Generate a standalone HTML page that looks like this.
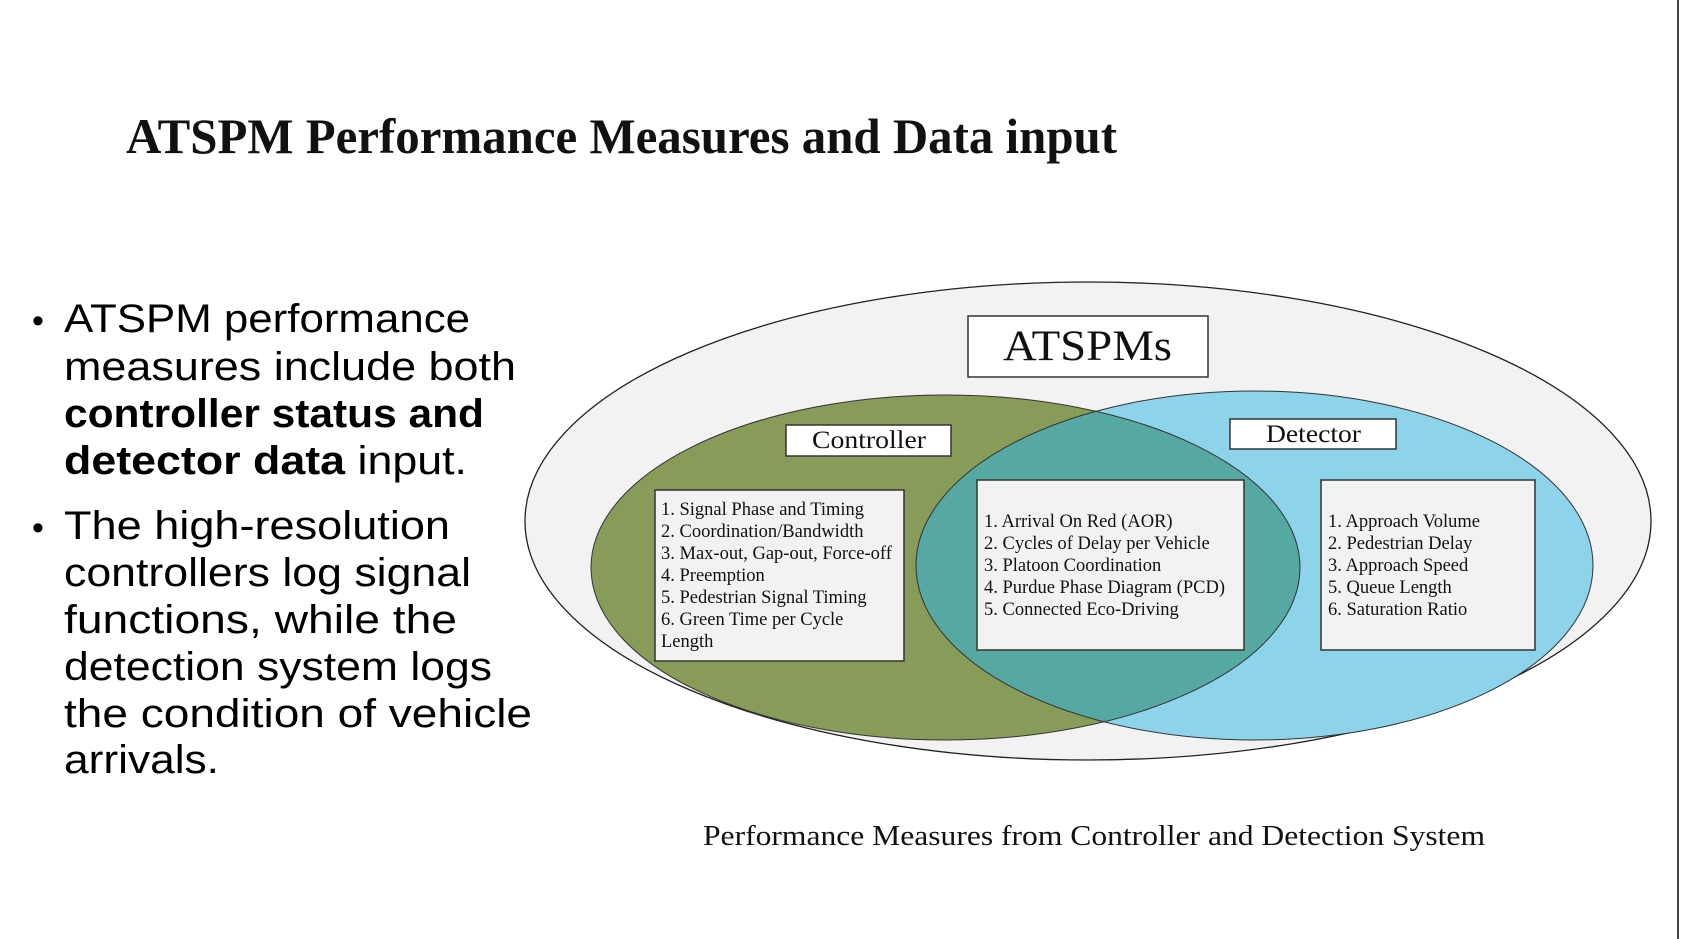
<!DOCTYPE html>
<html><head><meta charset="utf-8"><style>
html,body{margin:0;padding:0;background:#fff;width:1681px;height:939px;overflow:hidden}
svg{display:block}
.t{font-family:"Liberation Serif",serif;fill:#111}
.s{font-family:"Liberation Sans",sans-serif;fill:#000}
</style></head><body>
<svg width="1681" height="939" viewBox="0 0 1681 939" xmlns="http://www.w3.org/2000/svg">
<rect x="0" y="0" width="1681" height="939" fill="#fff"/>
<line x1="1678" y1="0" x2="1678" y2="939" stroke="#444" stroke-width="2"/>
<text class="t" x="126" y="153" font-size="50" font-weight="bold" textLength="991" lengthAdjust="spacingAndGlyphs">ATSPM Performance Measures and Data input</text>

<g class="s" font-size="40">
<text x="32" y="332" font-size="34">•</text>
<text x="64" y="332" textLength="406" lengthAdjust="spacingAndGlyphs">ATSPM performance</text>
<text x="64" y="380" textLength="452" lengthAdjust="spacingAndGlyphs">measures include both</text>
<text x="64" y="427" textLength="420" lengthAdjust="spacingAndGlyphs" font-weight="bold">controller status and</text>
<text x="64" y="474" textLength="403" lengthAdjust="spacingAndGlyphs"><tspan font-weight="bold">detector data</tspan> input.</text>
<text x="32" y="539" font-size="34">•</text>
<text x="64" y="539" textLength="386" lengthAdjust="spacingAndGlyphs">The high-resolution</text>
<text x="64" y="586" textLength="407" lengthAdjust="spacingAndGlyphs">controllers log signal</text>
<text x="64" y="633" textLength="393" lengthAdjust="spacingAndGlyphs">functions, while the</text>
<text x="64" y="680" textLength="428" lengthAdjust="spacingAndGlyphs">detection system logs</text>
<text x="64" y="727" textLength="468" lengthAdjust="spacingAndGlyphs">the condition of vehicle</text>
<text x="64" y="773" textLength="155" lengthAdjust="spacingAndGlyphs">arrivals.</text>
</g>

<ellipse cx="1088" cy="521" rx="563" ry="239" fill="#f2f2f2" stroke="#222" stroke-width="1.3"/>
<defs>
<clipPath id="g"><ellipse cx="945.5" cy="567.5" rx="354.5" ry="172.5"/></clipPath>
</defs>
<ellipse cx="945.5" cy="567.5" rx="354.5" ry="172.5" fill="#879c58"/>
<ellipse cx="1254.5" cy="565.5" rx="338.5" ry="174.5" fill="#8dd3ea"/>
<ellipse cx="1254.5" cy="565.5" rx="338.5" ry="174.5" fill="#56a8a2" clip-path="url(#g)"/>
<ellipse cx="945.5" cy="567.5" rx="354.5" ry="172.5" fill="none" stroke="#333" stroke-width="1"/>
<ellipse cx="1254.5" cy="565.5" rx="338.5" ry="174.5" fill="none" stroke="#333" stroke-width="1"/>

<rect x="968" y="316" width="240" height="61" fill="#fff" stroke="#333" stroke-width="1.5"/>
<text class="t" x="1003" y="360" font-size="43" textLength="169" lengthAdjust="spacingAndGlyphs">ATSPMs</text>
<rect x="786" y="425" width="165" height="31" fill="#fff" stroke="#333" stroke-width="1.5"/>
<text class="t" x="812" y="448" font-size="25" textLength="114" lengthAdjust="spacingAndGlyphs">Controller</text>
<rect x="1230" y="419" width="166" height="30" fill="#fff" stroke="#333" stroke-width="1.5"/>
<text class="t" x="1266" y="442" font-size="25" textLength="95" lengthAdjust="spacingAndGlyphs">Detector</text>

<rect x="655" y="490" width="249" height="171" fill="#f2f2f2" stroke="#333" stroke-width="1.5"/>
<g class="t" font-size="18.5" fill="#333">
<text x="661" y="515">1. Signal Phase and Timing</text>
<text x="661" y="537">2. Coordination/Bandwidth</text>
<text x="661" y="559">3. Max-out, Gap-out, Force-off</text>
<text x="661" y="581">4. Preemption</text>
<text x="661" y="603">5. Pedestrian Signal Timing</text>
<text x="661" y="625">6. Green Time per Cycle</text>
<text x="661" y="647">Length</text>
</g>
<rect x="977" y="480" width="267" height="170" fill="#f2f2f2" stroke="#333" stroke-width="1.5"/>
<g class="t" font-size="18.5" fill="#333">
<text x="984" y="527">1. Arrival On Red (AOR)</text>
<text x="984" y="549">2. Cycles of Delay per Vehicle</text>
<text x="984" y="571">3. Platoon Coordination</text>
<text x="984" y="593">4. Purdue Phase Diagram (PCD)</text>
<text x="984" y="615">5. Connected Eco-Driving</text>
</g>
<rect x="1321" y="480" width="214" height="170" fill="#f2f2f2" stroke="#333" stroke-width="1.5"/>
<g class="t" font-size="18.5" fill="#333">
<text x="1328" y="527">1. Approach Volume</text>
<text x="1328" y="549">2. Pedestrian Delay</text>
<text x="1328" y="571">3. Approach Speed</text>
<text x="1328" y="593">5. Queue Length</text>
<text x="1328" y="615">6. Saturation Ratio</text>
</g>

<text class="t" x="703" y="845" font-size="28" textLength="782" lengthAdjust="spacingAndGlyphs">Performance Measures from Controller and Detection System</text>
</svg>
</body></html>
